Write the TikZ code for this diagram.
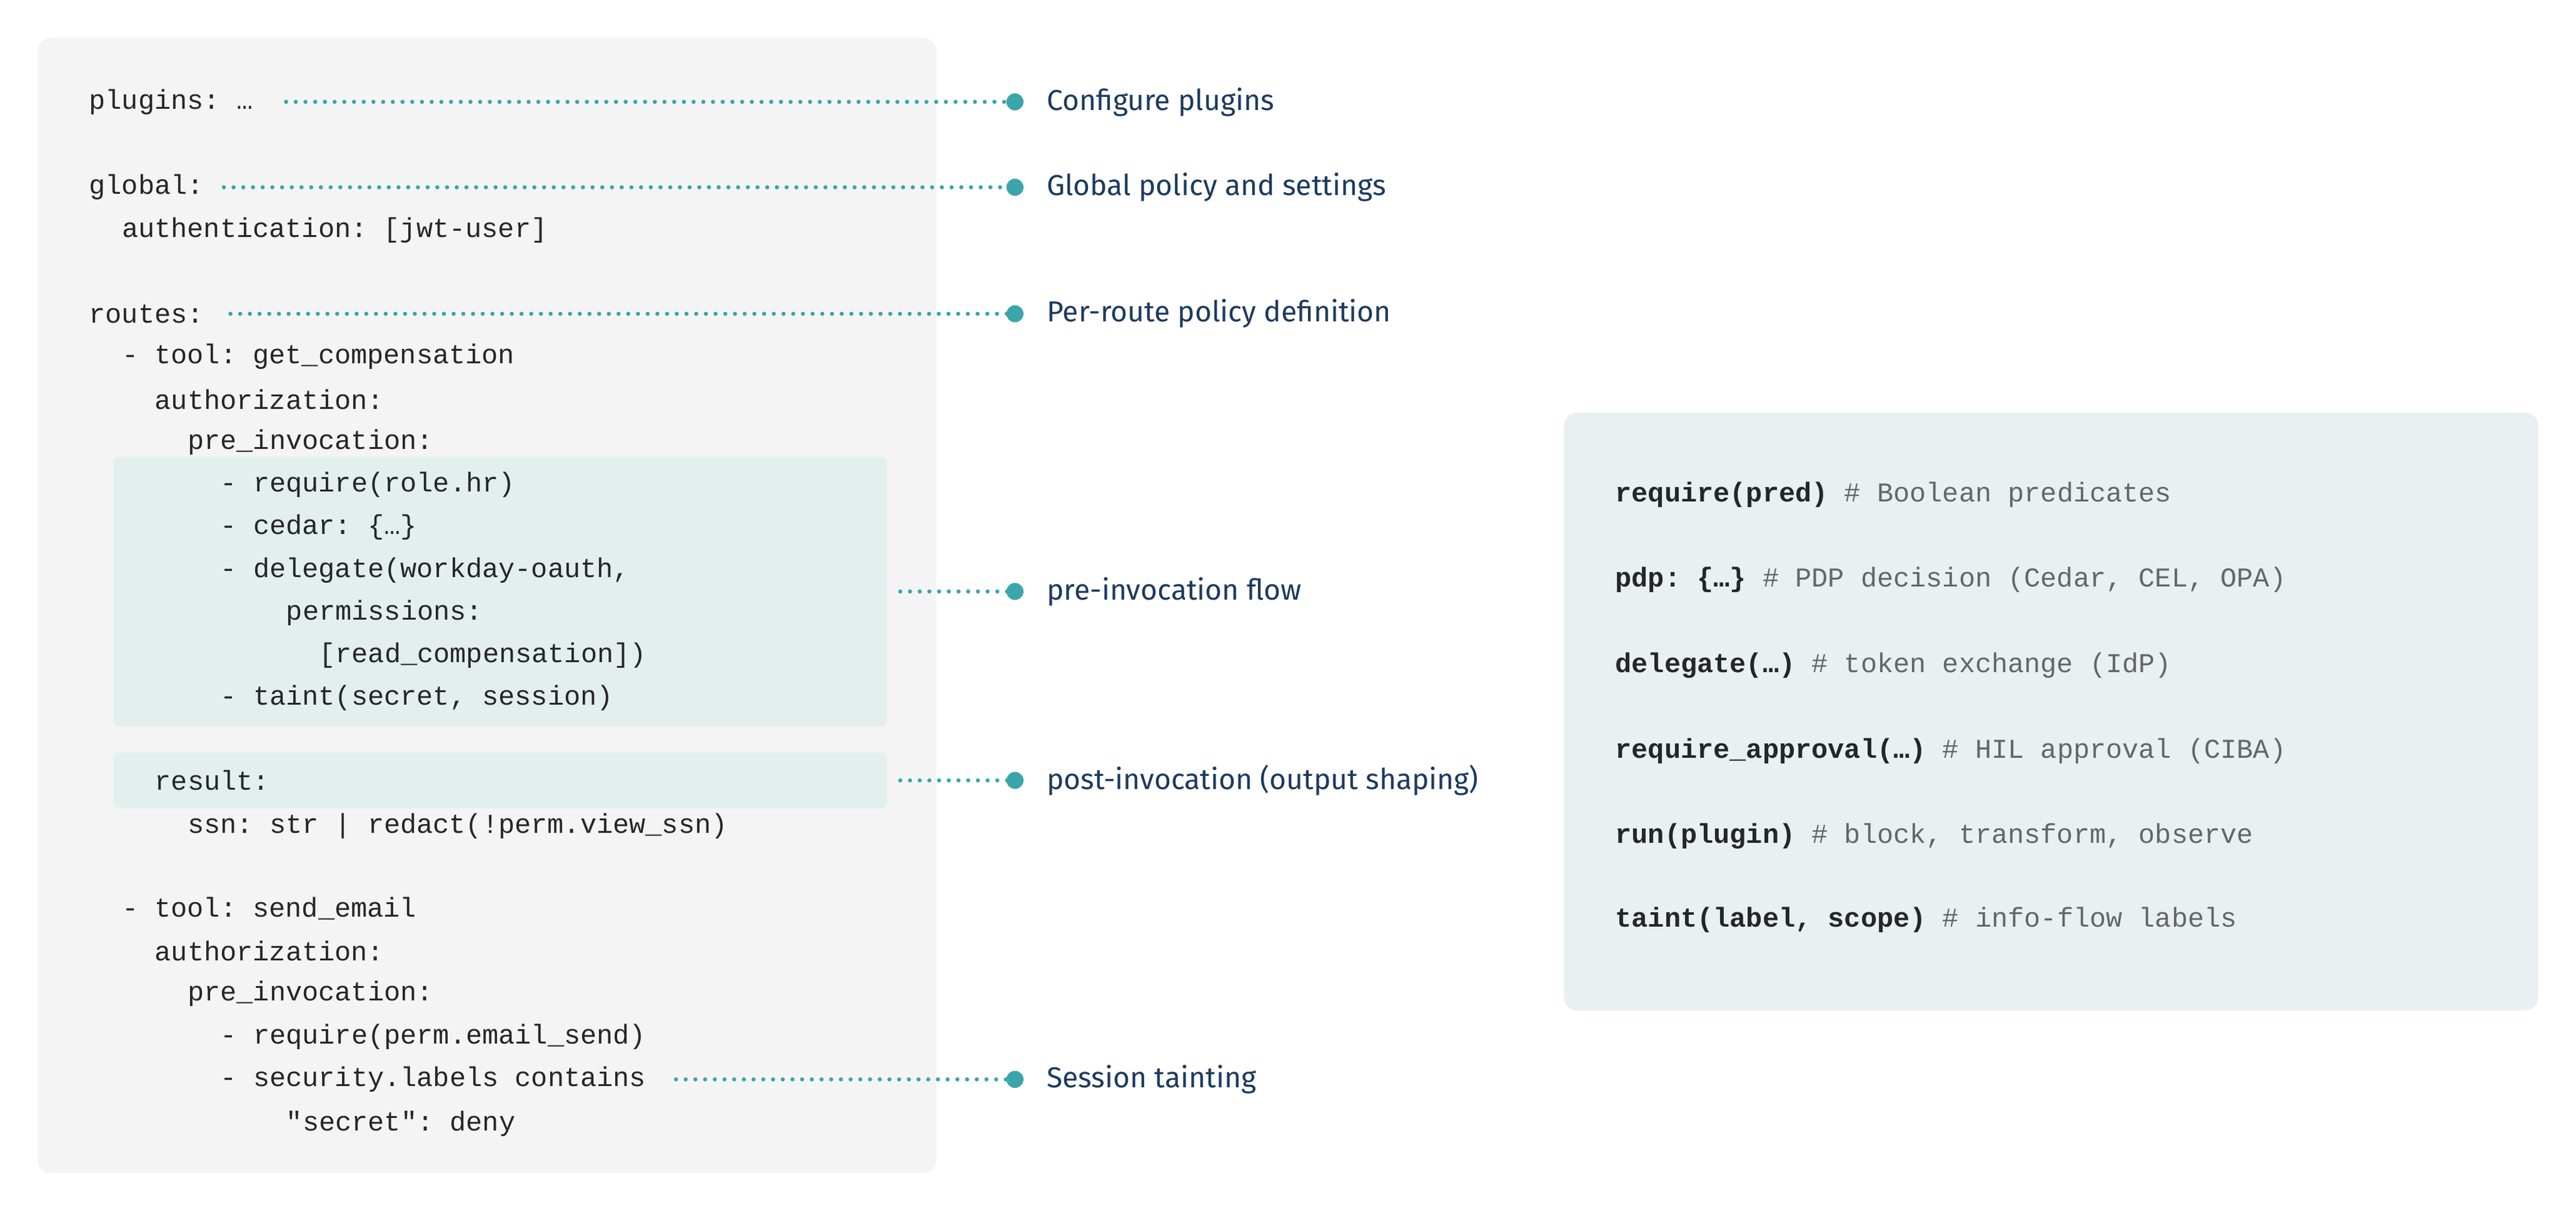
\documentclass[tikz,border=0pt]{standalone}
\usepackage{fontspec}
\setmainfont{Fira Sans}
\setmonofont{Liberation Mono}
\usetikzlibrary{positioning}
\definecolor{codebg}{HTML}{F4F4F4}
\definecolor{hlbg}{HTML}{E3EEEF}
\definecolor{notebg}{HTML}{E8F0F1}
\definecolor{teal}{HTML}{3AA5AB}
\definecolor{navy}{HTML}{1C3A5E}
\definecolor{cgray}{HTML}{666666}
\tikzset{
  code/.style={anchor=west, inner sep=0pt, font=\ttfamily\fontsize{11.8}{14}\selectfont, text=black!85},
  lbl/.style={anchor=west, inner sep=0pt, font=\fontsize{12.5}{15}\selectfont, text=navy},
  link/.style={teal, line width=1.8pt, line cap=round, dash pattern=on 0pt off 4.2pt},
  enddot/.style={fill=teal, circle, inner sep=0pt, minimum size=0.26cm},
}
\begin{document}
\begin{tikzpicture}[x=0.025cm, y=-0.025cm]
    \useasboundingbox (0,0) rectangle (1568,738);

    % Panels
    \fill[codebg, rounded corners=0.2cm] (23,23) rectangle (570,714);
    \fill[hlbg, rounded corners=0.08cm] (69,278) rectangle (540,442);
    \fill[hlbg, rounded corners=0.08cm] (69,458) rectangle (540,492);
    \fill[notebg, rounded corners=0.2cm] (952,251) rectangle (1545,615);

    % YAML lines with connectors
    \node[code] (plugins) at (54,62) {plugins: …};
    \node[code] (global) at (54,114) {global:};
    \node[code] (routes) at (54,191) {routes:};
    \node[code] (sec) at (134,657) {- security.labels contains};

    % the remaining YAML lines
    \foreach \x/\y/\t in {74/140/{authentication: [jwt-user]},
        74/217/{- tool: get\_compensation}, 94/243/{authorization:},
        114/269/{pre\_invocation:}, 134/295/{- require(role.hr)},
        134/321/{- cedar: \{…\}}, 134/347/{- delegate(workday-oauth,},
        174/373/{permissions:}, 194/399/{[read\_compensation])},
        134/425/{- taint(secret, session)}, 94/475/{result:},
        114/503/{ssn: str | redact(!perm.view\_ssn)},
        74/553/{- tool: send\_email}, 94/579/{authorization:},
        114/605/{pre\_invocation:}, 134/631/{- require(perm.email\_send)},
        174/684/{"secret": deny}} {
        \node[code] at (\x,\y) {\t};
    }

    % Labels
    \node[lbl] (lplug) at (637,62) {Configure plugins};
    \node[lbl] (lglob) at (637,114) {Global policy and settings};
    \node[lbl] (lrout) at (637,191) {Per-route policy definition};
    \node[lbl] (lpre) at (637,360) {pre-invocation flow};
    \node[lbl] (lpost) at (637,475) {post-invocation (output shaping)};
    \node[lbl] (lsess) at (637,657) {Session tainting};

    % Connectors
    \coordinate (prebox) at (548,360);
    \coordinate (postbox) at (548,475);
    \draw[link] ([xshift=0.5cm]plugins.east) -- ([xshift=-0.48cm]lplug.west) node[enddot] {};
    \draw[link] ([xshift=0.3cm]global.east) -- ([xshift=-0.48cm]lglob.west) node[enddot] {};
    \draw[link] ([xshift=0.4cm]routes.east) -- ([xshift=-0.48cm]lrout.west) node[enddot] {};
    \draw[link] (prebox) -- ([xshift=-0.48cm]lpre.west) node[enddot] {};
    \draw[link] (postbox) -- ([xshift=-0.48cm]lpost.west) node[enddot] {};
    \draw[link] ([xshift=0.45cm]sec.east) -- ([xshift=-0.48cm]lsess.west) node[enddot] {};

    % Primitive reference
    \foreach \y/\f/\c in {301/{require(pred)}/{Boolean predicates},
        353/{pdp: \{…\}}/{PDP decision (Cedar, CEL, OPA)},
        405/{delegate(…)}/{token exchange (IdP)},
        457/{require\_approval(…)}/{HIL approval (CIBA)},
        509/{run(plugin)}/{block, transform, observe},
        560/{taint(label, scope)}/{info-flow labels}} {
        \node[code] at (983,\y) {\textbf{\f} \textcolor{cgray}{\# \c}};
    }

\end{tikzpicture}
\end{document}
